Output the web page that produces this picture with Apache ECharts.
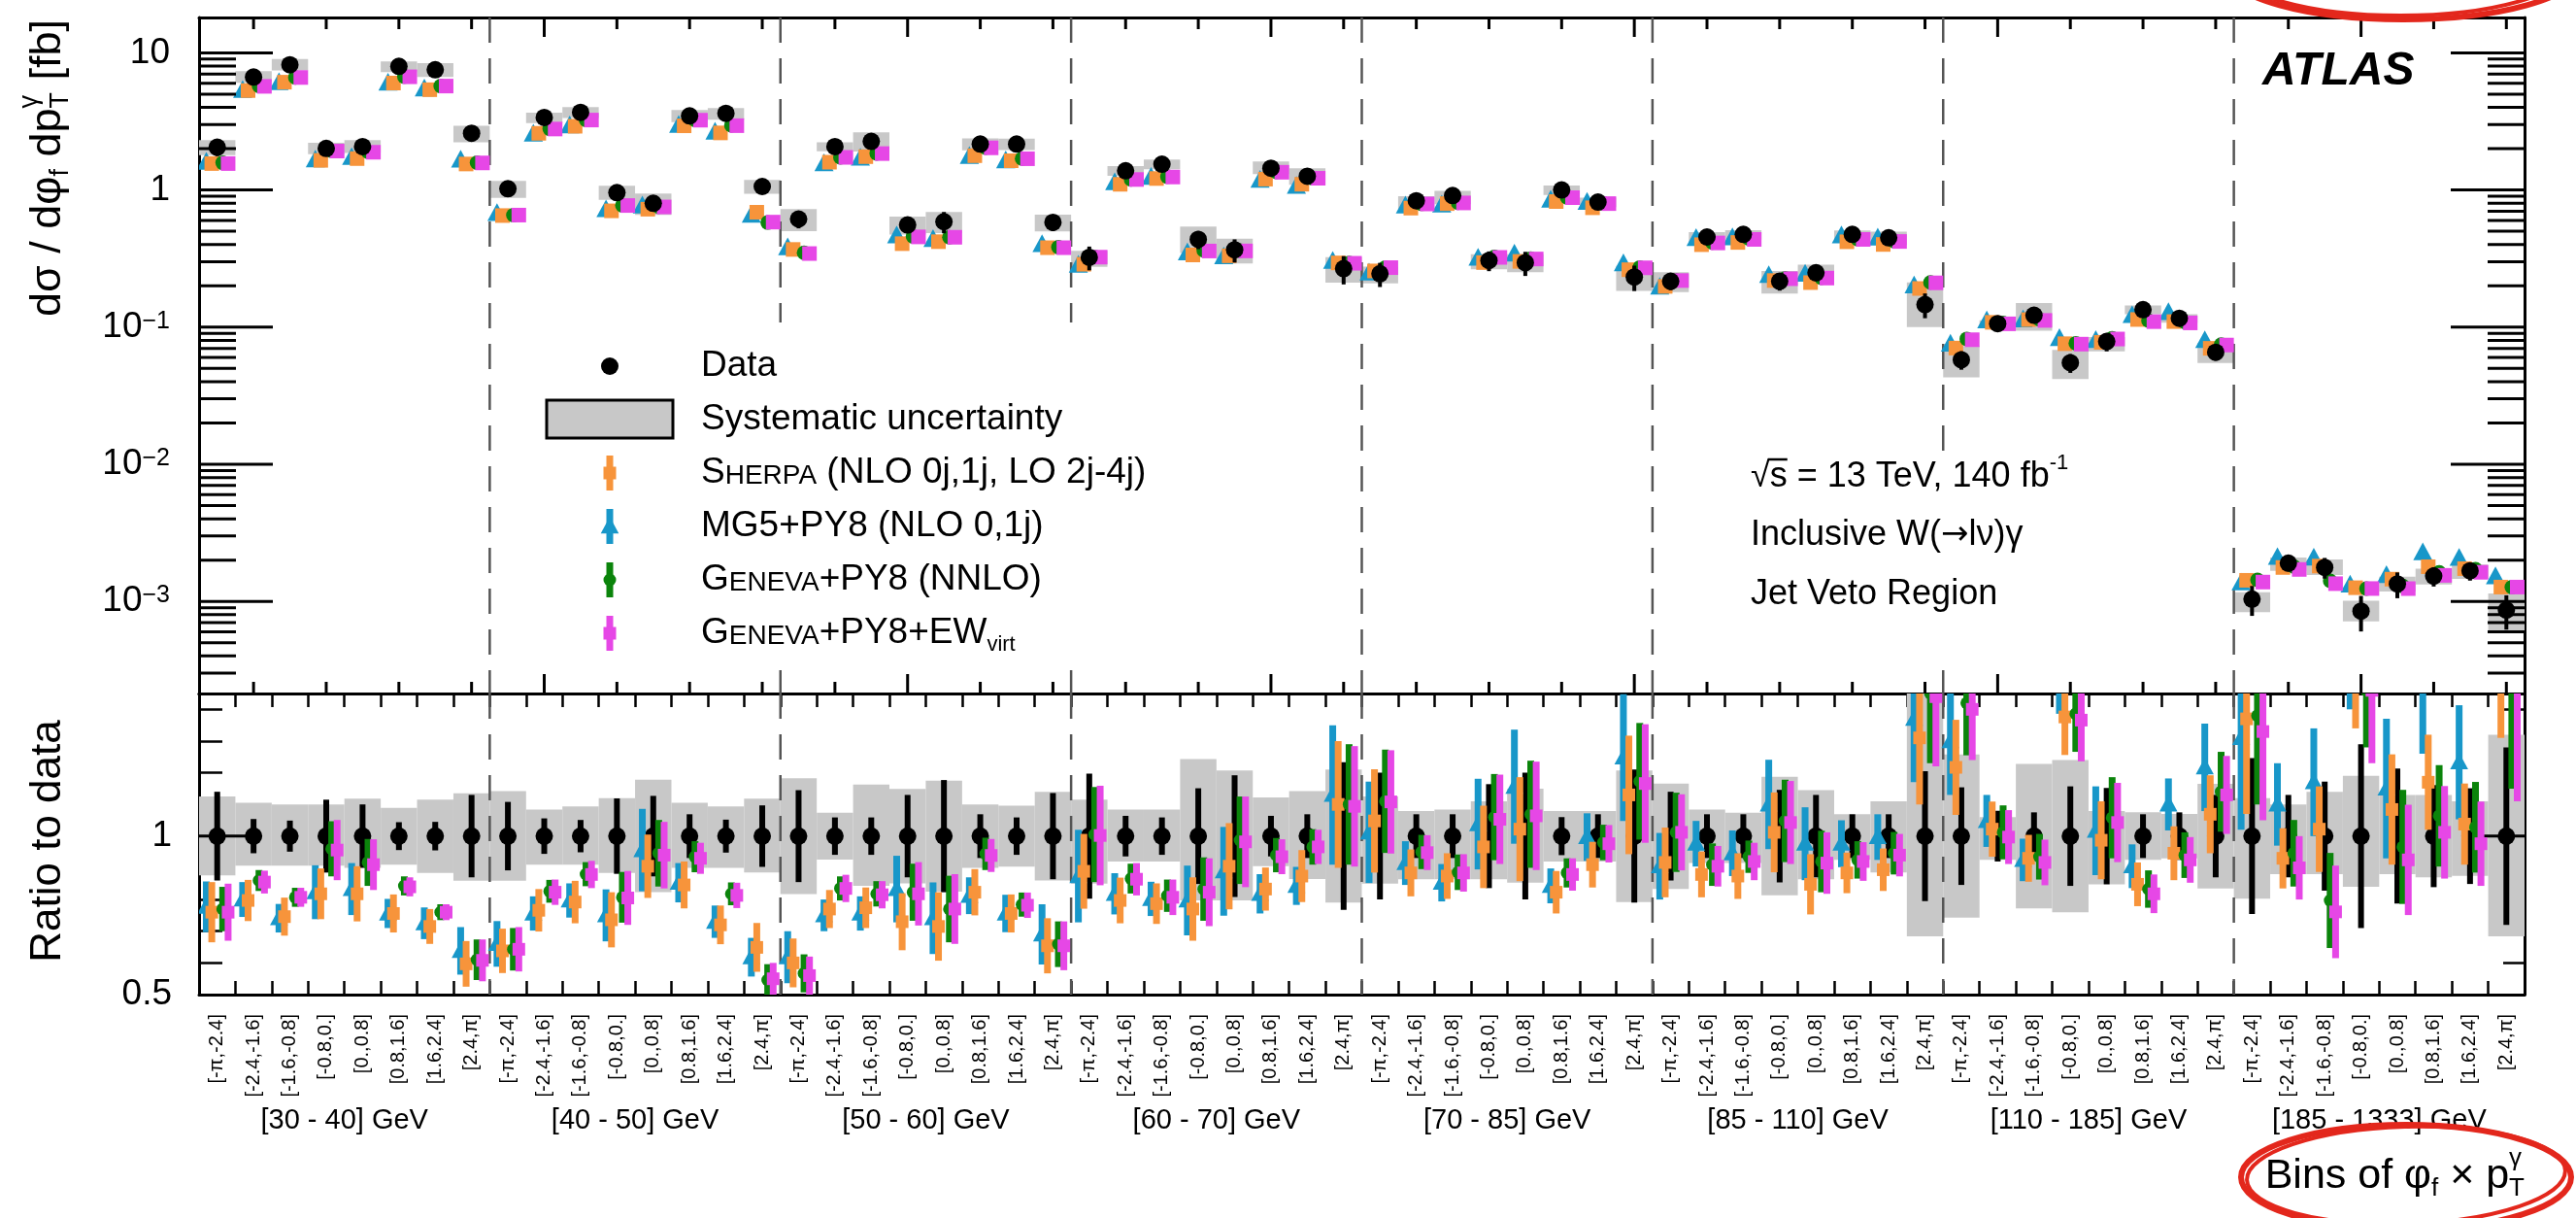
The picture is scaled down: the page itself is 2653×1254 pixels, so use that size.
<!DOCTYPE html>
<html>
<head>
<meta charset="utf-8">
<script src="https://cdn.jsdelivr.net/npm/echarts@6/dist/echarts.min.js"></script>
<style>
  html, body { margin: 0; padding: 0; background: #fff; }
  #main { width: 2653px; height: 1254px; }
</style>
</head>
<body>
<div id="main"></div>
<script>
// ---- bins ----
const phiBins = ['[-\u03c0,-2.4]', '[-2.4,-1.6]', '[-1.6,-0.8]', '[-0.8,0.]', '[0.,0.8]', '[0.8,1.6]', '[1.6,2.4]', '[2.4,\u03c0]'];
const ptBins = ['[30 - 40] GeV', '[40 - 50] GeV', '[50 - 60] GeV', '[60 - 70] GeV',
  '[70 - 85] GeV', '[85 - 110] GeV', '[110 - 185] GeV', '[185 - 1333] GeV'];

// ---- measured cross sections [fb] ----
const dataXsec = [
  2.05, 6.66, 8.19, 2.01, 2.07, 7.96, 7.53, 2.59,
  1.02, 3.38, 3.68, 0.957, 0.80, 3.47, 3.62, 1.06,
  0.614, 2.07, 2.26, 0.556, 0.587, 2.16, 2.16, 0.58,
  0.323, 1.38, 1.54, 0.436, 0.366, 1.44, 1.26, 0.267,
  0.245, 0.834, 0.91, 0.306, 0.295, 1.0, 0.815, 0.232,
  0.216, 0.454, 0.474, 0.216, 0.249, 0.474, 0.448, 0.146,
  0.0578, 0.106, 0.122, 0.055, 0.0785, 0.134, 0.116, 0.0655,
  0.00104, 0.0019, 0.00177, 0.00085, 0.00134, 0.00153, 0.00167, 0.000865
];
// relative stat. uncertainty of data
const dataStat = [
  0.14, 0.054, 0.049, 0.115, 0.10, 0.044, 0.045, 0.13,
  0.108, 0.056, 0.051, 0.119, 0.127, 0.069, 0.052, 0.097,
  0.145, 0.059, 0.059, 0.13, 0.177, 0.069, 0.059, 0.136,
  0.197, 0.064, 0.059, 0.151, 0.192, 0.064, 0.069, 0.233,
  0.2, 0.069, 0.069, 0.164, 0.2, 0.06, 0.069, 0.21,
  0.14, 0.069, 0.069, 0.146, 0.13, 0.069, 0.069, 0.205,
  0.154, 0.08, 0.075, 0.157, 0.152, 0.069, 0.075, 0.13,
  0.246, 0.13, 0.172, 0.29, 0.213, 0.161, 0.151, 0.28
];
// relative systematic uncertainty (up / down)
const sysUp = [
  0.125, 0.105, 0.10, 0.10, 0.118, 0.089, 0.115, 0.135,
  0.142, 0.084, 0.094, 0.12, 0.178, 0.105, 0.094, 0.118,
  0.183, 0.074, 0.163, 0.149, 0.175, 0.1, 0.096, 0.14,
  0.115, 0.084, 0.084, 0.243, 0.207, 0.122, 0.142, 0.21,
  0.125, 0.079, 0.084, 0.11, 0.15, 0.079, 0.079, 0.207,
  0.166, 0.084, 0.074, 0.187, 0.145, 0.069, 0.11, 0.45,
  0.258, 0.06, 0.228, 0.24, 0.079, 0.075, 0.07, 0.165,
  0.12, 0.1, 0.14, 0.19, 0.13, 0.13, 0.11, 0.32
];
const sysDn = [
  0.124, 0.093, 0.093, 0.093, 0.10, 0.09, 0.116, 0.141,
  0.141, 0.09, 0.09, 0.116, 0.177, 0.1, 0.1, 0.115,
  0.183, 0.074, 0.157, 0.149, 0.175, 0.1, 0.096, 0.14,
  0.15, 0.08, 0.08, 0.203, 0.203, 0.095, 0.135, 0.21,
  0.15, 0.136, 0.136, 0.136, 0.147, 0.08, 0.08, 0.208,
  0.167, 0.085, 0.085, 0.187, 0.136, 0.075, 0.115, 0.316,
  0.257, 0.075, 0.228, 0.24, 0.152, 0.075, 0.07, 0.165,
  0.197, 0.12, 0.12, 0.16, 0.12, 0.13, 0.125, 0.316
];

// ---- predictions, ratio to data ----
const sherpaRatio = [
  0.76, 0.797, 0.746, 0.818, 0.818, 0.756, 0.715, 0.597,
  0.638, 0.766, 0.792, 0.736, 0.905, 0.846, 0.72, 0.649,
  0.6, 0.77, 0.774, 0.73, 0.715, 0.823, 0.756, 0.654,
  0.889, 0.797, 0.787, 0.77, 0.905, 0.833, 0.874, 1.1,
  1.048, 0.884, 0.874, 0.966, 1.022, 0.823, 0.91, 1.13,
  0.917, 0.879, 0.874, 1.012, 0.848, 0.884, 0.894, 1.31,
  1.217, 1.022, 0.93, 1.376, 0.987, 0.848, 0.946, 1.069,
  1.37, 0.93, 1.022, 1.48, 1.084, 1.17, 1.038, 1.47
];
const sherpaErr = [
  0.095, 0.065, 0.06, 0.08, 0.087, 0.06, 0.055, 0.072,
  0.07, 0.067, 0.067, 0.087, 0.1, 0.074, 0.061, 0.077,
  0.077, 0.06, 0.064, 0.09, 0.108, 0.073, 0.06, 0.087,
  0.118, 0.072, 0.064, 0.1, 0.136, 0.068, 0.082, 0.2,
  0.163, 0.074, 0.072, 0.13, 0.164, 0.067, 0.072, 0.187,
  0.11, 0.072, 0.072, 0.126, 0.095, 0.064, 0.067, 0.21,
  0.15, 0.087, 0.074, 0.12, 0.123, 0.069, 0.085, 0.123,
  0.3, 0.095, 0.135, 0.14, 0.174, 0.15, 0.128, 0.16
];
const mg5Ratio = [
  0.777, 0.80, 0.741, 0.823, 0.833, 0.756, 0.725, 0.638,
  0.66, 0.756, 0.797, 0.75, 0.956, 0.853, 0.73, 0.618,
  0.618, 0.75, 0.756, 0.833, 0.741, 0.812, 0.756, 0.69,
  0.874, 0.818, 0.802, 0.797, 0.889, 0.818, 0.843, 1.13,
  1.012, 0.915, 0.853, 1.038, 1.156, 0.843, 0.997, 1.248,
  0.905, 0.976, 0.946, 1.1, 0.976, 0.976, 0.997, 1.37,
  1.3, 1.048, 0.925, 1.5, 1.017, 0.905, 1.1, 1.217,
  1.31, 1.1, 1.17, 1.55, 1.15, 1.48, 1.233, 1.75
];
const mg5Err = [
  0.08, 0.055, 0.045, 0.085, 0.082, 0.046, 0.05, 0.075,
  0.072, 0.054, 0.054, 0.082, 0.13, 0.062, 0.051, 0.061,
  0.082, 0.05, 0.054, 0.105, 0.113, 0.058, 0.059, 0.095,
  0.146, 0.065, 0.054, 0.11, 0.14, 0.062, 0.06, 0.22,
  0.16, 0.069, 0.059, 0.143, 0.18, 0.055, 0.075, 0.2,
  0.105, 0.072, 0.072, 0.141, 0.115, 0.074, 0.072, 0.2,
  0.17, 0.082, 0.067, 0.114, 0.14, 0.069, 0.082, 0.138,
  0.29, 0.13, 0.17, 0.15, 0.22, 0.22, 0.18, 0.2
];
const genevaRatio = [
  0.77, 0.86, 0.807, 0.96, 0.917, 0.843, 0.76, 0.61,
  0.643, 0.826, 0.88, 0.807, 0.946, 0.935, 0.818, 0.546,
  0.567, 0.835, 0.818, 0.823, 0.77, 0.944, 0.784, 0.659,
  1.005, 0.866, 0.812, 0.833, 0.987, 0.94, 0.966, 1.1,
  1.11, 0.95, 0.886, 1.06, 1.069, 0.884, 0.98, 1.173,
  1.012, 0.91, 0.935, 1.048, 0.92, 0.925, 0.946, 1.45,
  1.42, 1.012, 0.935, 1.386, 1.058, 0.833, 0.94, 1.14,
  1.38, 0.946, 0.797, 1.46, 0.966, 1.064, 1.028, 1.47
];
const genevaErr = [
  0.07, 0.033, 0.03, 0.087, 0.074, 0.03, 0.025, 0.064,
  0.067, 0.036, 0.038, 0.08, 0.105, 0.049, 0.036, 0.05,
  0.06, 0.038, 0.04, 0.09, 0.105, 0.051, 0.038, 0.072,
  0.15, 0.047, 0.051, 0.1, 0.138, 0.054, 0.056, 0.19,
  0.163, 0.054, 0.056, 0.136, 0.169, 0.046, 0.056, 0.184,
  0.125, 0.067, 0.051, 0.13, 0.097, 0.059, 0.067, 0.22,
  0.165, 0.085, 0.072, 0.12, 0.128, 0.059, 0.072, 0.126,
  0.28, 0.105, 0.15, 0.18, 0.18, 0.16, 0.143, 0.32
];
const genevaEwRatio = [
  0.76, 0.855, 0.807, 0.956, 0.91, 0.84, 0.76, 0.608,
  0.643, 0.823, 0.879, 0.805, 0.94, 0.93, 0.813, 0.55,
  0.56, 0.835, 0.815, 0.818, 0.77, 0.939, 0.782, 0.654,
  1.002, 0.864, 0.807, 0.823, 0.982, 0.935, 0.966, 1.094,
  1.108, 0.948, 0.884, 1.053, 1.064, 0.879, 0.976, 1.166,
  1.012, 0.905, 0.92, 1.043, 0.915, 0.92, 0.94, 1.44,
  1.40, 0.997, 0.917, 1.366, 1.043, 0.818, 0.925, 1.13,
  1.33, 0.9, 0.761, 1.46, 0.925, 1.012, 0.976, 1.47
];
const genevaEwErr = [
  0.09, 0.036, 0.03, 0.095, 0.08, 0.03, 0.025, 0.066,
  0.07, 0.04, 0.043, 0.085, 0.105, 0.049, 0.04, 0.05,
  0.06, 0.043, 0.043, 0.1, 0.11, 0.052, 0.04, 0.077,
  0.157, 0.051, 0.056, 0.107, 0.143, 0.055, 0.054, 0.19,
  0.163, 0.055, 0.059, 0.141, 0.171, 0.051, 0.059, 0.187,
  0.12, 0.064, 0.059, 0.131, 0.097, 0.061, 0.067, 0.22,
  0.16, 0.085, 0.072, 0.13, 0.125, 0.061, 0.072, 0.123,
  0.28, 0.1, 0.146, 0.23, 0.174, 0.146, 0.133, 0.36
];
// short ratio = 1 segments drawn at the two outer edges
const refSegments = [[0, 1.47], [62.8, 64]];

// ---- axis ranges ----
const yLogMin = 2.13e-4;
const yLogMax = 18.1;
const ratioMin = 0.5;
const ratioMax = 1.45;

const FONT = '"Liberation Sans", Arial, Helvetica, sans-serif';
const C_SHERPA = '#f7943b';
const C_MG5 = '#1897c9';
const C_GENEVA = '#0b840b';
const C_GENEVA_EW = '#e647e6';
const C_SYS = '#c8c8c8';

const models = [
  { name: 'MG5+PY8', vals: mg5Ratio, errs: mg5Err, off: -0.3, color: C_MG5, shape: 'triangle' },
  { name: 'Sherpa', vals: sherpaRatio, errs: sherpaErr, off: -0.15, color: C_SHERPA, shape: 'square' },
  { name: 'Geneva', vals: genevaRatio, errs: genevaErr, off: 0.15, color: C_GENEVA, shape: 'circle' },
  { name: 'Geneva+EW', vals: genevaEwRatio, errs: genevaEwErr, off: 0.3, color: C_GENEVA_EW, shape: 'square' }
];

const binLabels = [];
ptBins.forEach(function () { phiBins.forEach(function (p) { binLabels.push(p); }); });
const groupEdges = [8, 16, 24, 32, 40, 48, 56];

function marker (shape, x, y, s, color) {
  if (shape === 'circle') {
    return { type: 'circle', shape: { cx: x, cy: y, r: s / 2 }, style: { fill: color } };
  }
  if (shape === 'square') {
    return { type: 'rect', shape: { x: x - s / 2, y: y - s / 2, width: s, height: s }, style: { fill: color } };
  }
  return {
    type: 'polygon',
    shape: { points: [[x, y - s * 0.62], [x - s * 0.58, y + s * 0.45], [x + s * 0.58, y + s * 0.45]] },
    style: { fill: color }
  };
}

function boxRender (params, api) {
  const p1 = api.coord([api.value(0), api.value(1)]);
  const p2 = api.coord([api.value(0) + 1, api.value(2)]);
  return { type: 'rect', shape: { x: p1[0], y: p1[1], width: p2[0] - p1[0], height: p2[1] - p1[1] }, style: { fill: C_SYS } };
}

function sepRender (params, api) {
  const cs = params.coordSys;
  const x = api.coord([api.value(0), api.value(1)])[0];
  return {
    type: 'line',
    shape: { x1: x, y1: cs.y, x2: x, y2: cs.y + cs.height },
    style: { stroke: '#555', lineWidth: 2.5, lineDash: [26, 16] }
  };
}

// ---- series ----
const series = [];

// top panel
series.push({
  type: 'custom', xAxisIndex: 0, yAxisIndex: 0, clip: true,
  data: dataXsec.map(function (v, i) { return [i, v * (1 + sysUp[i]), v * (1 - sysDn[i])]; }),
  renderItem: boxRender
});
series.push({
  type: 'custom', xAxisIndex: 0, yAxisIndex: 0,
  data: groupEdges.map(function (e) { return [e, 1]; }),
  renderItem: sepRender
});
models.forEach(function (m) {
  series.push({
    type: 'custom', xAxisIndex: 0, yAxisIndex: 0, clip: true,
    data: dataXsec.map(function (v, i) { return [i + 0.5 + m.off, v * m.vals[i]]; }),
    renderItem: function (params, api) {
      const c = api.coord([api.value(0), api.value(1)]);
      return marker(m.shape, c[0], c[1], m.shape === 'triangle' ? 17 : 15, m.color);
    }
  });
});
series.push({
  type: 'custom', xAxisIndex: 0, yAxisIndex: 0, clip: true,
  data: dataXsec.map(function (v, i) { return [i + 0.5, v, v * (1 - dataStat[i]), v * (1 + dataStat[i])]; }),
  renderItem: function (params, api) {
    const c = api.coord([api.value(0), api.value(1)]);
    const lo = api.coord([api.value(0), api.value(2)]);
    const hi = api.coord([api.value(0), api.value(3)]);
    return {
      type: 'group',
      children: [
        { type: 'line', shape: { x1: c[0], y1: lo[1], x2: c[0], y2: hi[1] }, style: { stroke: '#000', lineWidth: 4 } },
        { type: 'circle', shape: { cx: c[0], cy: c[1], r: 9 }, style: { fill: '#000' } }
      ]
    };
  }
});

// top panel frame ticks (log y ticks on both sides, x ticks top and bottom)
const frameTicks = [];
for (let e = -4; e <= 1; e++) {
  for (let m = 1; m <= 9; m++) {
    const v = m * Math.pow(10, e);
    if (v > yLogMin && v < yLogMax) frameTicks.push([0.5, v, m === 1 ? 1 : 0, 0]);
  }
}
for (let v = 2; v <= 64; v += 2) frameTicks.push([v - 0.5, 1, v % 10 === 0 ? 1 : 0, 1]);
series.push({
  type: 'custom', xAxisIndex: 0, yAxisIndex: 0, z: 5,
  data: frameTicks,
  renderItem: function (params, api) {
    const cs = params.coordSys;
    const p = api.coord([api.value(0), api.value(1)]);
    const major = api.value(2);
    const st = { stroke: '#000', lineWidth: 3 };
    if (api.value(3) === 0) {
      const len = major ? 76 : 38;
      return { type: 'group', children: [
        { type: 'line', shape: { x1: cs.x, y1: p[1], x2: cs.x + len, y2: p[1] }, style: st },
        { type: 'line', shape: { x1: cs.x + cs.width, y1: p[1], x2: cs.x + cs.width - len, y2: p[1] }, style: st }
      ] };
    }
    const len = major ? 20 : 12;
    return { type: 'group', children: [
      { type: 'line', shape: { x1: p[0], y1: cs.y, x2: p[0], y2: cs.y + len }, style: st },
      { type: 'line', shape: { x1: p[0], y1: cs.y + cs.height, x2: p[0], y2: cs.y + cs.height - len }, style: st }
    ] };
  }
});

// ratio panel
series.push({
  type: 'custom', xAxisIndex: 3, yAxisIndex: 2, clip: true,
  data: dataXsec.map(function (v, i) { return [i, 1 + sysUp[i], 1 - sysDn[i]]; }),
  renderItem: boxRender
});
series.push({
  type: 'custom', xAxisIndex: 3, yAxisIndex: 2,
  data: groupEdges.map(function (e) { return [e, 1]; }),
  renderItem: sepRender
});
series.push({
  type: 'custom', xAxisIndex: 3, yAxisIndex: 2, clip: true,
  data: refSegments.map(function (s) { return [s[0], 1, s[1]]; }),
  renderItem: function (params, api) {
    const a = api.coord([api.value(0), api.value(1)]);
    const b = api.coord([api.value(2), api.value(1)]);
    return { type: 'line', shape: { x1: a[0], y1: a[1], x2: b[0], y2: b[1] }, style: { stroke: '#000', lineWidth: 3 } };
  }
});
series.push({
  type: 'custom', xAxisIndex: 3, yAxisIndex: 2, clip: true,
  data: dataStat.map(function (s, i) { return [i + 0.5, 1, 1 - s, 1 + s]; }),
  renderItem: function (params, api) {
    const c = api.coord([api.value(0), api.value(1)]);
    const lo = api.coord([api.value(0), api.value(2)]);
    const hi = api.coord([api.value(0), api.value(3)]);
    return {
      type: 'group',
      children: [
        { type: 'rect', shape: { x: c[0] - 3, y: hi[1], width: 6, height: lo[1] - hi[1] }, style: { fill: '#000' } },
        { type: 'circle', shape: { cx: c[0], cy: c[1], r: 9 }, style: { fill: '#000' } }
      ]
    };
  }
});
models.forEach(function (m) {
  series.push({
    type: 'custom', xAxisIndex: 3, yAxisIndex: 2, clip: true,
    data: m.vals.map(function (r, i) { return [i + 0.5 + m.off, r, r - m.errs[i], r + m.errs[i]]; }),
    renderItem: function (params, api) {
      const c = api.coord([api.value(0), api.value(1)]);
      const lo = api.coord([api.value(0), api.value(2)]);
      const hi = api.coord([api.value(0), api.value(3)]);
      return {
        type: 'group',
        children: [
          { type: 'rect', shape: { x: c[0] - 3.5, y: hi[1], width: 7, height: lo[1] - hi[1] }, style: { fill: m.color } },
          marker(m.shape, c[0], c[1], m.shape === 'triangle' ? 16 : 13, m.color)
        ]
      };
    }
  });
});

// ---- axes ----
const frameLine = { show: true, onZero: false, lineStyle: { color: '#000', width: 3 } };
const noSplit = { show: false };

const option = {
  animation: false,
  backgroundColor: '#fff',
  grid: [
    { left: 205, right: 53, top: 18, height: 696 },
    { left: 205, right: 53, top: 714, height: 310 }
  ],
  xAxis: [
    { gridIndex: 0, type: 'value', min: 0, max: 64, position: 'bottom', axisLine: frameLine,
      axisTick: { show: false }, axisLabel: { show: false }, splitLine: noSplit },
    { gridIndex: 0, type: 'value', min: 0, max: 64, position: 'top', axisLine: frameLine,
      axisTick: { show: false }, axisLabel: { show: false }, splitLine: noSplit },
    { gridIndex: 1, type: 'category', data: binLabels, position: 'bottom', axisLine: frameLine,
      axisTick: { show: true, inside: true, length: 14, interval: 0, lineStyle: { color: '#000', width: 2.5 } },
      axisLabel: { interval: 0, rotate: 90, fontSize: 20, fontFamily: FONT, color: '#000', margin: 20 },
      splitLine: noSplit },
    { gridIndex: 1, type: 'value', min: 0, max: 64, interval: 1, position: 'top', axisLine: frameLine,
      axisTick: { show: true, inside: true, length: 14, lineStyle: { color: '#000', width: 2.5 } },
      axisLabel: { show: false }, splitLine: noSplit }
  ],
  yAxis: [
    { gridIndex: 0, type: 'log', logBase: 10, min: yLogMin, max: yLogMax, position: 'left', axisLine: frameLine,
      axisTick: { show: false }, minorTick: { show: false }, splitLine: noSplit,
      axisLabel: {
        margin: 30, fontSize: 37, fontFamily: FONT, color: '#000',
        formatter: function (v) {
          const l = Math.log10(v);
          const e = Math.round(l);
          if (Math.abs(l - e) > 1e-6) return '';
          if (e === 0) return '1';
          if (e === 1) return '10';
          return '10{sup|' + (e < 0 ? '\u2212' : '') + Math.abs(e) + '}';
        },
        rich: { sup: { fontSize: 25, fontFamily: FONT, color: '#000', verticalAlign: 'top' } }
      } },
    { gridIndex: 0, type: 'log', logBase: 10, min: yLogMin, max: yLogMax, position: 'right', axisLine: frameLine,
      axisTick: { show: false }, minorTick: { show: false }, splitLine: noSplit, axisLabel: { show: false } },
    { gridIndex: 1, type: 'value', min: ratioMin, max: ratioMax, interval: 0.1, position: 'left', axisLine: frameLine,
      axisTick: { show: true, inside: true, length: 24, lineStyle: { color: '#000', width: 2.5 } }, splitLine: noSplit,
      axisLabel: {
        margin: 28, fontSize: 37, fontFamily: FONT, color: '#000',
        formatter: function (v) {
          if (Math.abs(v - 1) < 1e-6) return '1';
          if (Math.abs(v - 0.5) < 1e-6) return '0.5';
          return '';
        }
      } },
    { gridIndex: 1, type: 'value', min: ratioMin, max: ratioMax, interval: 0.1, position: 'right', axisLine: frameLine,
      axisTick: { show: true, inside: true, length: 22, lineStyle: { color: '#000', width: 2.5 } }, splitLine: noSplit,
      axisLabel: { show: false } }
  ],
  series: series
};

const chart = echarts.init(document.getElementById('main'));
chart.setOption(option);

// ---- text helpers ----
const measureCtx = document.createElement('canvas').getContext('2d');
function fontStr (size, extra, family) {
  return (extra || '') + ' ' + size + 'px ' + (family || FONT);
}
// parts: [text, size, dy, backToPrevStart, overline, family]
function mixText (parts, x, y, rotation, align, extra) {
  const children = [];
  let cx = 0;
  let lastStart = 0;
  parts.forEach(function (p) {
    const t = p[0], s = p[1], dy = p[2] || 0, back = p[3], over = p[4], fam = p[5];
    const sx = back ? lastStart : cx;
    measureCtx.font = fontStr(s, extra, fam);
    const w = measureCtx.measureText(t).width;
    children.push({
      type: 'text', x: sx, y: dy, z: 100,
      style: { text: t, font: fontStr(s, extra, fam), fill: '#000', align: 'left', verticalAlign: 'middle' }
    });
    if (over) {
      children.push({ type: 'line', z: 100, shape: { x1: sx - 2, y1: dy - s * 0.5, x2: sx + w, y2: dy - s * 0.5 }, style: { stroke: '#000', lineWidth: 2.5 } });
    }
    if (back) {
      cx = Math.max(cx, sx + w);
    } else {
      lastStart = cx;
      cx += w;
    }
  });
  const shift = align === 'right' ? -cx : (align === 'center' ? -cx / 2 : 0);
  children.forEach(function (c) {
    if (c.type === 'text') c.x += shift;
    else { c.shape.x1 += shift; c.shape.x2 += shift; }
  });
  return { type: 'group', x: x, y: y, rotation: rotation || 0, z: 100, children: children };
}

const graphics = [];
// white boxes behind the legend and the labels (they hide the dashed separators)
graphics.push({ type: 'rect', z: 90, shape: { x: 548, y: 332, width: 660, height: 358 }, style: { fill: '#fff' } });
graphics.push({ type: 'rect', z: 90, shape: { x: 1790, y: 465, width: 380, height: 225 }, style: { fill: '#fff' } });

// axis titles
graphics.push(mixText([['d\u03c3 / d\u03c6', 45], ['f', 27, 13], [' dp', 45], ['\u03b3', 27, -19], ['T', 27, 13, true], [' [fb]', 45]],
  50, 20, Math.PI / 2, 'right'));
graphics.push(mixText([['Ratio to data', 44]], 50, 866, Math.PI / 2, 'center'));
graphics.push(mixText([['Bins of ', 43], ['\u03c6', 43], ['f', 26, 13], [' \u00d7 p', 43], ['\u03b3', 26, -18], ['T', 26, 13, true]],
  2600, 1211, 0, 'right'));

// pT group labels below the bin labels
ptBins.forEach(function (lab, g) {
  const px = chart.convertToPixel({ xAxisIndex: 3 }, g * 8 + 4);
  graphics.push(mixText([[lab, 29]], px, 1154, 0, 'center'));
});

// legend
const legX = 628;
const legTextX = 722;
const legRows = [377, 432, 487, 542, 597, 652];
graphics.push({ type: 'circle', z: 100, shape: { cx: legX, cy: legRows[0], r: 9 }, style: { fill: '#000' } });
graphics.push({ type: 'rect', z: 100, shape: { x: 563, y: legRows[1] - 20, width: 130, height: 39 }, style: { fill: C_SYS, stroke: '#000', lineWidth: 3 } });
[[C_SHERPA, 'square'], [C_MG5, 'triangle'], [C_GENEVA, 'circle'], [C_GENEVA_EW, 'square']].forEach(function (d, k) {
  const y = legRows[k + 2];
  graphics.push({ type: 'rect', z: 100, shape: { x: legX - 3.5, y: y - 18, width: 7, height: 36 }, style: { fill: d[0] } });
  const mk = marker(d[1], legX, y, d[1] === 'triangle' ? 16 : 13, d[0]);
  mk.z = 100;
  graphics.push(mk);
});
graphics.push(mixText([['Data', 37]], legTextX, legRows[0], 0, 'left'));
graphics.push(mixText([['Systematic uncertainty', 37]], legTextX, legRows[1], 0, 'left'));
graphics.push(mixText([['S', 37], ['HERPA', 28, 3], [' (NLO 0j,1j, LO 2j-4j)', 37]], legTextX, legRows[2], 0, 'left'));
graphics.push(mixText([['MG5+PY8 (NLO 0,1j)', 37]], legTextX, legRows[3], 0, 'left'));
graphics.push(mixText([['G', 37], ['ENEVA', 28, 3], ['+PY8 (NNLO)', 37]], legTextX, legRows[4], 0, 'left'));
graphics.push(mixText([['G', 37], ['ENEVA', 28, 3], ['+PY8+EW', 37], ['virt', 22, 12]], legTextX, legRows[5], 0, 'left'));

// labels
graphics.push(mixText([['ATLAS', 48]], 2330, 74, 0, 'left', 'italic bold'));
graphics.push(mixText([['\u221a', 36], ['s', 36, 0, false, true], [' = 13 TeV, 140 fb', 36], ['-1', 22, -14]], 1803, 491, 0, 'left'));
graphics.push(mixText([['Inclusive W(', 36], ['\u2192', 34, 0, false, false, '"DejaVu Sans", sans-serif'], ['l\u03bd)\u03b3', 36]], 1803, 551, 0, 'left'));
graphics.push(mixText([['Jet Veto Region', 36]], 1803, 612, 0, 'left'));

// red hand-drawn ellipses
graphics.push({ type: 'ellipse', z: 110, shape: { cx: 2478, cy: 1212, rx: 170, ry: 54 }, style: { fill: 'none', stroke: '#e3271c', lineWidth: 6 } });
graphics.push({ type: 'ellipse', z: 110, rotation: 0.03, x: 2478, y: 1210, shape: { cx: 0, cy: 0, rx: 164, ry: 50 }, style: { fill: 'none', stroke: '#e3271c', lineWidth: 4 } });
graphics.push({ type: 'ellipse', z: 110, shape: { cx: 2475, cy: -30, rx: 180, ry: 50 }, style: { fill: 'none', stroke: '#e3271c', lineWidth: 6 } });
graphics.push({ type: 'ellipse', z: 110, shape: { cx: 2472, cy: -33, rx: 172, ry: 49 }, style: { fill: 'none', stroke: '#e3271c', lineWidth: 4 } });

chart.setOption({ graphic: graphics });
</script>
</body>
</html>
